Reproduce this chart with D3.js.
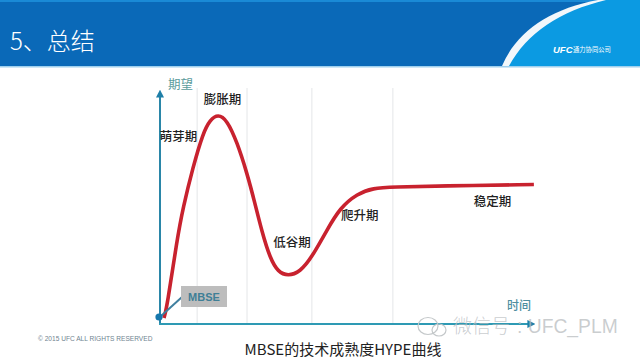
<!DOCTYPE html>
<html><head><meta charset="utf-8">
<script src="https://cdn.jsdelivr.net/npm/d3@7"></script>
<style>html,body{margin:0;padding:0;background:#fff}svg{display:block}</style>
</head><body><div id="c"></div>
<script>
const curveTime = [1.07,1.87,4.53,6.13,8.8,11.47,13.33,15.47,17.87,20.53,23.2,25.3,27.2,29.33,31.47,34.13,37.33,40.53,44.53,48,52.53,56.8,62.13,74.67,99.7];
const curveExpect = [2.6,7.3,35.9,49.6,67.1,81.6,87.2,89.7,87.2,77.8,64.5,51.7,39.3,28.2,22.2,20.5,22.2,28.6,40.2,49.6,55.6,58.1,58.5,59,59.6];
const gridTimes = [9.9,23.2,40.5,62.1];
const phaseNames = ["萌芽期","膨胀期","低谷期","爬升期","稳定期"];
const phaseTime = [4.93,16.67,35.2,53.3,88.7];
const phaseExpect = [78.2,94,32.9,44.4,50.4];
const titleText = "5、总结";
const captionText = "MBSE的技术成熟度HYPE曲线";
const yAxisName = "期望", xAxisName = "时间";

const W=640,H=360, CJK="'Noto Sans CJK SC','Noto Sans',sans-serif", LAT="'Liberation Sans'";
const svg=d3.select("#c").append("svg").attr("width",W).attr("height",H).style("font-family",CJK);
const x=d3.scaleLinear().domain([0,100]).range([160,535]);
const y=d3.scaleLinear().domain([0,100]).range([324,90]);

const defs=svg.append("defs");
defs.append("filter").attr("id","b").append("feGaussianBlur").attr("stdDeviation",0.35);
defs.append("marker").attr("id","a1").attr("viewBox","0 0 10 10").attr("refX",2).attr("refY",5)
 .attr("markerWidth",4).attr("markerHeight",4).attr("orient","auto").append("path").attr("d","M0,0L10,5L0,10Z").attr("fill","#1f7fa8");

// Header
svg.append("rect").attr("width",W).attr("height",66).attr("fill","#0a69b8");
svg.append("rect").attr("width",W).attr("height",2).attr("fill","#1a8ad6");
svg.append("path").attr("d","M506,66 C522,33 553,11 602,0 L640,0 L640,66 Z").attr("fill","#0b9ae2");
svg.append("path").attr("d","M502,66 C517,31 550,9 598,0 L606,0 C560,11 527,33 509,66 Z").attr("fill","#f2f7fb");
svg.append("rect").attr("y",66).attr("width",W).attr("height",1.5).attr("fill","#9fd0ee");
svg.append("text").attr("x",10).attr("y",50).attr("fill","#fff").attr("font-size",24).attr("font-weight",300).text(titleText);
svg.append("text").attr("x",553).attr("y",53).attr("fill","#fff").attr("font-size",9.5).attr("font-style","italic").attr("font-weight",700).attr("font-family",LAT).text("UFC");
svg.append("text").attr("x",573).attr("y",52).attr("fill","#fff").attr("font-size",6.3).text("通力协同公司");

// Grid
svg.append("g").selectAll("line").data(gridTimes).join("line")
 .attr("x1",d=>x(d)).attr("x2",d=>x(d)).attr("y1",y(100)-2).attr("y2",y(0))
 .attr("stroke","#e4e6e8").attr("stroke-width",1);

// Curve
svg.append("path").datum(curveTime.map((t,i)=>[t,curveExpect[i]]))
 .attr("d",d3.line().x(d=>x(d[0])).y(d=>y(d[1])).curve(d3.curveBasis))
 .attr("fill","none").attr("stroke","#c8202f").attr("stroke-width",3.6).attr("filter","url(#b)");

// Axes
svg.append("line").attr("x1",x(0)).attr("x2",x(0)).attr("y1",y(0)+1).attr("y2",y(100)+6)
 .attr("stroke","#2a86a8").attr("stroke-width",2).attr("marker-end","url(#a1)");
svg.append("line").attr("x1",x(0)-1).attr("x2",x(100)-6).attr("y1",y(0)).attr("y2",y(0))
 .attr("stroke","#2e9ab4").attr("stroke-width",2).attr("marker-end","url(#a1)");
svg.append("text").attr("x",168).attr("y",89).attr("fill","#5b9c9c").attr("font-size",12.5).text(yAxisName);
svg.append("text").attr("x",507).attr("y",310).attr("fill","#4f8f9f").attr("font-size",12).attr("font-weight",500).text(xAxisName);

// Phase labels
svg.append("g").selectAll("text").data(phaseNames).join("text")
 .attr("x",(d,i)=>x(phaseTime[i])).attr("y",(d,i)=>y(phaseExpect[i]))
 .attr("text-anchor","middle").attr("fill","#222").attr("font-size",12.5).attr("font-weight",500).text(d=>d);

// MBSE callout
svg.append("line").attr("x1",182).attr("y1",297).attr("x2",161).attr("y2",316).attr("stroke","#3f7f9f").attr("stroke-width",2);
svg.append("circle").attr("cx",159).attr("cy",317).attr("r",3.6).attr("fill","#1778ad");
svg.append("rect").attr("x",181).attr("y",286).attr("width",46).attr("height",21).attr("fill","#bdbdbd");
svg.append("text").attr("x",204).attr("y",301).attr("text-anchor","middle").attr("fill","#3f7f96").attr("font-size",11).attr("font-weight",700).attr("font-family",LAT).text("MBSE");

// Footer
svg.append("text").attr("x",38).attr("y",341).attr("fill","#6f8490").attr("font-size",6.6).attr("font-family",LAT).text("© 2015 UFC ALL RIGHTS RESERVED");
svg.append("text").attr("x",343).attr("y",355).attr("text-anchor","middle").attr("fill","#222").attr("font-size",15).text(captionText);

// Watermark
const wm=svg.append("g").attr("fill","none").attr("stroke","#c4c8ca").attr("stroke-width",1.2);
wm.append("ellipse").attr("cx",428).attr("cy",326).attr("rx",10).attr("ry",8.5);
wm.append("ellipse").attr("cx",439).attr("cy",330).attr("rx",7).attr("ry",6);
svg.append("text").attr("x",453).attr("y",333).attr("fill","#b9bdbf").attr("fill-opacity",0.75).attr("font-size",19).attr("font-weight",300).text("微信号");
svg.append("text").attr("x",517).attr("y",333).attr("fill","#b9bdbf").attr("fill-opacity",0.75).attr("font-size",19.3).attr("font-family",LAT).text(": UFC_PLM");
</script></body></html>
